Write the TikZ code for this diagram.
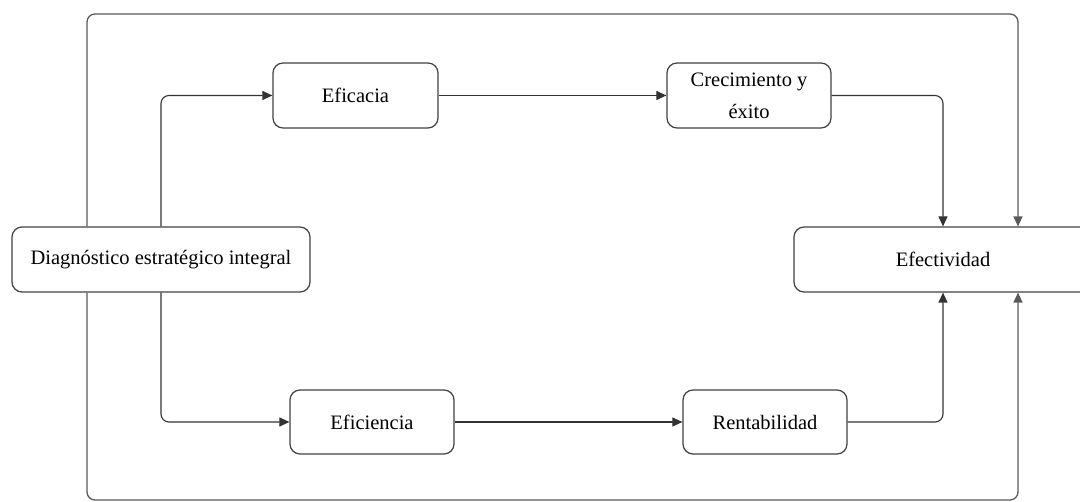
\documentclass[tikz,border=0pt]{standalone}
\usepackage{fontspec}
\setmainfont{Liberation Serif}
\usepackage{tikz}
\usetikzlibrary{arrows.meta,positioning}

\begin{document}
\begin{tikzpicture}[
    x=1pt, y=-1pt,
    box/.style={rectangle, rounded corners=10pt, draw=black!75, line width=1.2pt, minimum height=65pt, inner sep=2pt, align=center, font=\fontsize{20.5}{32}\selectfont},
    arrow/.style={-{Triangle[length=10pt,width=9pt]}, draw=black!80, line width=1.1pt, rounded corners=8pt},
    loop/.style={arrow, draw=black!65, line width=1.3pt}
]
    \useasboundingbox (0,0) rectangle (1080,502);

    % Boxes
    \node[box, minimum width=298pt] (diag) at (161, 259.5) {Diagnóstico estratégico integral};
    \node[box, minimum width=165pt] (eficacia) at (355.5, 95.5) {Eficacia};
    \node[box, minimum width=164pt] (crec) at (749, 95.5) {Crecimiento y\\éxito};
    \node[box, minimum width=298pt] (efect) at (943, 259.5) {Efectividad};
    \node[box, minimum width=164pt, minimum height=64pt] (eficiencia) at (372, 422) {Eficiencia};
    \node[box, minimum width=164pt, minimum height=64pt] (rent) at (765, 422) {Rentabilidad};

    % Corners of the outer loop
    \coordinate (topL) at (87, 14);
    \coordinate (topR) at (1018, 14);
    \coordinate (botL) at (87, 500);
    \coordinate (botR) at (1018, 500);

    % Arrows
    \draw[arrow] (diag.north) |- (eficacia.west);
    \draw[arrow] (eficacia.east) -- (crec.west);
    \draw[arrow] (crec.east) -| (efect.north);
    \draw[arrow] (diag.south) |- (eficiencia.west);
    \draw[arrow] (eficiencia.east) -- (rent.west);
    \draw[arrow] (rent.east) -| (efect.south);

    % Outer loop
    \draw[loop] (diag.north -| topL) -- (topL) -- (topR) -- (topR |- efect.north);
    \draw[loop] (diag.south -| botL) -- (botL) -- (botR) -- (botR |- efect.south);
\end{tikzpicture}
\end{document}
